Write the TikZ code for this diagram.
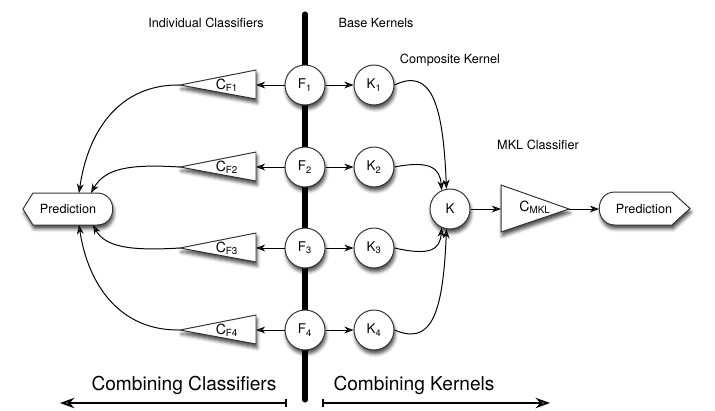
\documentclass[tikz,border=0pt]{standalone}
\usepackage{fontspec}
\setmainfont{TeX Gyre Heros}
\usetikzlibrary{arrows.meta,calc,shadows.blur}

\begin{document}
\begin{tikzpicture}[x=0.025cm, y=-0.025cm, >={Stealth[length=2.3mm,width=1.7mm]},
    shadowed/.style={draw=black!80, fill=white, line width=0.7pt,
      blur shadow={shadow xshift=0.8pt, shadow yshift=-2.8pt, shadow blur radius=2.4pt, shadow opacity=70}},
    unit/.style={circle, shadowed, minimum size=1cm, inner sep=0pt, font=\fontsize{9.5}{10}\selectfont},
    txt/.style={font=\fontsize{9}{11}\selectfont},
    bigtxt/.style={font=\fontsize{13.6}{16}\selectfont},
    link/.style={->, line width=0.7pt},
    span/.style={line width=1.1pt}]
    \useasboundingbox (0,0) rectangle (715,410);

    % the dividing bar
    \draw[line width=3.6pt, line cap=round] (305,14) -- (305,400);

    % headings
    \node[txt] (hind) at (206,23) {Individual Classifiers};
    \node[txt] (hbase) at (376,23) {Base Kernels};
    \node[txt] (hcomp) at (450,60) {Composite Kernel};
    \node[txt] (hmkl) at (538,145) {MKL Classifier};

    % features and base kernels
    \node[unit] (f1) at (305,85) {F\textsubscript{1}};
    \node[unit] (f2) at (305,167) {F\textsubscript{2}};
    \node[unit] (f3) at (305,248) {F\textsubscript{3}};
    \node[unit] (f4) at (305,330) {F\textsubscript{4}};
    \node[unit] (k1) at (374,85) {K\textsubscript{1}};
    \node[unit] (k2) at (374,167) {K\textsubscript{2}};
    \node[unit] (k3) at (374,248) {K\textsubscript{3}};
    \node[unit] (k4) at (374,330) {K\textsubscript{4}};
    \node[unit] (k) at (450,209) {K};

    % individual classifiers
    \draw[shadowed] (256,70) -- (256,99) -- (180,85) -- cycle;
    \draw[shadowed] (256,152) -- (256,181) -- (180,167) -- cycle;
    \draw[shadowed] (256,233) -- (256,262) -- (180,248) -- cycle;
    \draw[shadowed] (256,315) -- (256,344) -- (180,330) -- cycle;
    \node[txt] (cf1) at (227,85) {\fontsize{10}{11}\selectfont C\textsubscript{F1}};
    \node[txt] (cf2) at (227,167) {\fontsize{10}{11}\selectfont C\textsubscript{F2}};
    \node[txt] (cf3) at (227,248) {\fontsize{10}{11}\selectfont C\textsubscript{F3}};
    \node[txt] (cf4) at (227,330) {\fontsize{10}{11}\selectfont C\textsubscript{F4}};
    \coordinate (cf1b) at (256,85);
    \coordinate (cf2b) at (256,167);
    \coordinate (cf3b) at (256,248);
    \coordinate (cf4b) at (256,330);
    \coordinate (cf1t) at (180,85);
    \coordinate (cf2t) at (180,167);
    \coordinate (cf3t) at (180,248);
    \coordinate (cf4t) at (180,330);

    % MKL classifier
    \draw[shadowed] (501,185) -- (569,209) -- (501,232) -- cycle;
    \node[txt] (cmkl) at (535,207) {\fontsize{10}{11}\selectfont C\textsubscript{MKL}};
    \coordinate (cmklb) at (501,209);
    \coordinate (cmklt) at (569,209);

    % predictions
    \draw[shadowed] (23,209) -- (33,193) -- (97,193) .. controls (118,193) and (118,225) .. (97,225) -- (33,225) -- cycle;
    \node[txt] (predl) at (68,209) {Prediction};
    \coordinate (pla) at (79,193);
    \coordinate (plb) at (91,193);
    \coordinate (plc) at (93,225);
    \coordinate (pld) at (79,225);
    \draw[shadowed] (615,192) -- (672,192) -- (690,208.5) -- (672,225) -- (615,225) .. controls (594,225) and (594,192) .. (615,192) -- cycle;
    \node[txt] (predr) at (644,209) {Prediction};
    \coordinate (prin) at (599,209);

    % connectors
    \draw[link] (f1) -- (cf1b);
    \draw[link] (f2) -- (cf2b);
    \draw[link] (f3) -- (cf3b);
    \draw[link] (f4) -- (cf4b);
    \draw[link] (f1) -- (k1);
    \draw[link] (f2) -- (k2);
    \draw[link] (f3) -- (k3);
    \draw[link] (f4) -- (k4);
    \draw[link] (cf1t) .. controls (120,84) and (88,130) .. (pla);
    \draw[link] (cf2t) .. controls (130,164) and (105,168) .. (plb);
    \draw[link] (cf3t) .. controls (130,251) and (105,247) .. (plc);
    \draw[link] (cf4t) .. controls (120,331) and (88,285) .. (pld);
    \draw[link] (k1.east) .. controls (430,68) and (443,100) .. (k.100);
    \draw[link] (k2.east) .. controls (430,160) and (440,168) .. (k.114);
    \draw[link] (k3.east) .. controls (430,256) and (440,250) .. (k.246);
    \draw[link] (k4.east) .. controls (430,345) and (443,318) .. (k.260);
    \draw[link] (k) -- (cmklb);
    \draw[link] (cmklt) -- (prin);

    % bottom spans
    \node[bigtxt] (combc) at (184,385) {Combining Classifiers};
    \node[bigtxt] (combk) at (414,385) {Combining Kernels};
    \coordinate (cca) at (287,403);
    \coordinate (ccb) at (60,403);
    \coordinate (cka) at (322,403);
    \coordinate (ckb) at (550,403);
    \draw[span, {Bar[width=2mm]}-{Stealth[length=3.6mm,width=2.6mm]}] (cca) -- (ccb);
    \draw[span, {Bar[width=2mm]}-{Stealth[length=3.6mm,width=2.6mm]}] (cka) -- (ckb);
\end{tikzpicture}
\end{document}
